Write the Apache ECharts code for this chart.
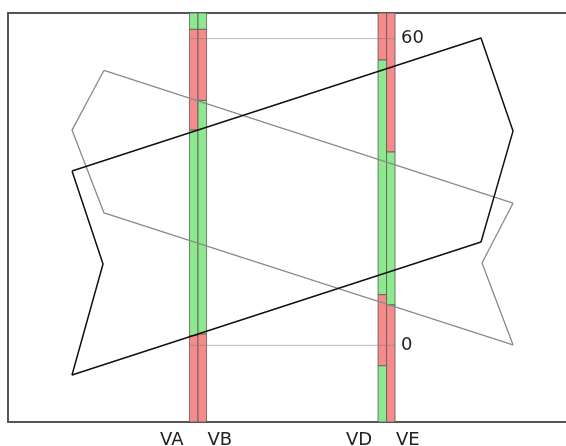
<!DOCTYPE html>
<html>
<head>
<meta charset="utf-8">
<script src="https://cdn.jsdelivr.net/npm/echarts@6/dist/echarts.min.js"></script>
<style>
html,body{margin:0;padding:0;background:#fff;}
#c{width:566px;height:446px;}
</style>
</head>
<body>
<div id="c"></div>
<script>
// ---- data ----
const barNames = ['VA', 'VB', 'VD', 'VE'];
const barCenters = [185.7, 194.3, 374.3, 382.8];
// segment boundaries from top to bottom for each bar
const barBreaks = [
  [65, 61.8, 42.1, 1.9, -15],
  [65, 61.8, 47.9, 2.2, -15],
  [65, 55.8, 9.9, -4.0, -15],
  [65, 37.8, 7.9, -15]
];
// state of each segment (1 = inside, 0 = outside)
const barStates = [
  [1, 0, 1, 0],
  [1, 0, 1, 0],
  [0, 1, 0, 1],
  [0, 1, 0]
];
const blackShapeX = [64, 95, 64, 473, 505, 473];
const blackShapeY = [34.1, 15.9, -5.8, 20.2, 41.9, 60.1];
const grayShapeX = [96, 64, 96, 505, 474, 505];
const grayShapeY = [53.8, 42.1, 25.9, 0.1, 16.1, 27.8];
const refLevels = [60, 0];
const yTickLabels = [0, 60];

// ---- build ----
const BAR_W = 8.5;
const X_MIN = 0, X_MAX = 558, Y_MIN = -15, Y_MAX = 65;
const segs = [];
barBreaks.forEach((br, i) => {
  for (let k = 0; k < br.length - 1; k++) {
    segs.push([barCenters[i], br[k + 1], br[k], barStates[i][k]]);
  }
});
function closed(xs, ys) {
  const d = xs.map((x, i) => [x, ys[i]]);
  d.push([xs[0], ys[0]]);
  return d;
}
const leftRef = barCenters[0] - BAR_W / 2;
const rightRef = barCenters[3] + BAR_W / 2;
const refSeries = refLevels.map(v => ({
  type: 'line', data: [[leftRef, v], [rightRef, v]], symbol: 'none', z: 3,
  lineStyle: { color: 'rgba(130,130,130,0.55)', width: 1 }, silent: true
}));
const frameLine = { show: true, onZero: false, lineStyle: { color: '#555', width: 2 } };
const hidden = { show: false };

const chart = echarts.init(document.getElementById('c'), null, { renderer: 'canvas' });
chart.setOption({
  animation: false,
  backgroundColor: '#fff',
  grid: { left: 8, right: 0, top: 13, bottom: 24, show: false },
  xAxis: [
    { type: 'value', min: X_MIN, max: X_MAX, position: 'bottom', axisLine: frameLine, axisTick: hidden, axisLabel: hidden, splitLine: hidden },
    { type: 'value', min: X_MIN, max: X_MAX, position: 'top', axisLine: frameLine, axisTick: hidden, axisLabel: hidden, splitLine: hidden }
  ],
  yAxis: [
    {
      type: 'value', min: Y_MIN, max: Y_MAX, position: 'right', offset: -170,
      axisLine: { show: false, onZero: false }, axisTick: hidden, splitLine: hidden,
      axisLabel: { customValues: yTickLabels, margin: 5, color: '#222', fontSize: 18, fontFamily: 'DejaVu Sans' }
    },
    { type: 'value', min: Y_MIN, max: Y_MAX, position: 'left', axisLine: frameLine, axisTick: hidden, axisLabel: hidden, splitLine: hidden }
  ],
  series: [
    {
      type: 'custom', z: 2, data: segs,
      renderItem: function (params, api) {
        const c = api.value(0), lo = api.value(1), hi = api.value(2), st = api.value(3);
        const p1 = api.coord([c - BAR_W / 2, hi]);
        const p2 = api.coord([c + BAR_W / 2, lo]);
        return {
          type: 'rect',
          shape: { x: p1[0], y: p1[1], width: p2[0] - p1[0], height: p2[1] - p1[1] },
          style: { fill: st ? '#8ee88e' : '#f58b8b', stroke: '#5a5a5a', lineWidth: 0.8 }
        };
      }
    },
    {
      type: 'custom', z: 5, data: barCenters.map((c, i) => [c, i]),
      renderItem: function (params, api) {
        const c = api.value(0), i = api.value(1);
        const left = i % 2 === 0;
        const p = api.coord([left ? c - BAR_W / 2 : c + BAR_W / 2, Y_MIN]);
        return {
          type: 'text',
          style: {
            x: left ? p[0] - 6 : p[0] + 1, y: p[1] + 9,
            text: barNames[i], fill: '#222', font: '18px "DejaVu Sans"',
            textAlign: left ? 'right' : 'left', textVerticalAlign: 'top'
          }
        };
      }
    },
    ...refSeries,
    {
      type: 'line', data: closed(grayShapeX, grayShapeY), symbol: 'none', z: 4,
      lineStyle: { color: '#8a8a8a', width: 1.3 }, silent: true
    },
    {
      type: 'line', data: closed(blackShapeX, blackShapeY), symbol: 'none', z: 4,
      lineStyle: { color: '#111', width: 1.5 }, silent: true
    }
  ]
});
</script>
</body>
</html>
